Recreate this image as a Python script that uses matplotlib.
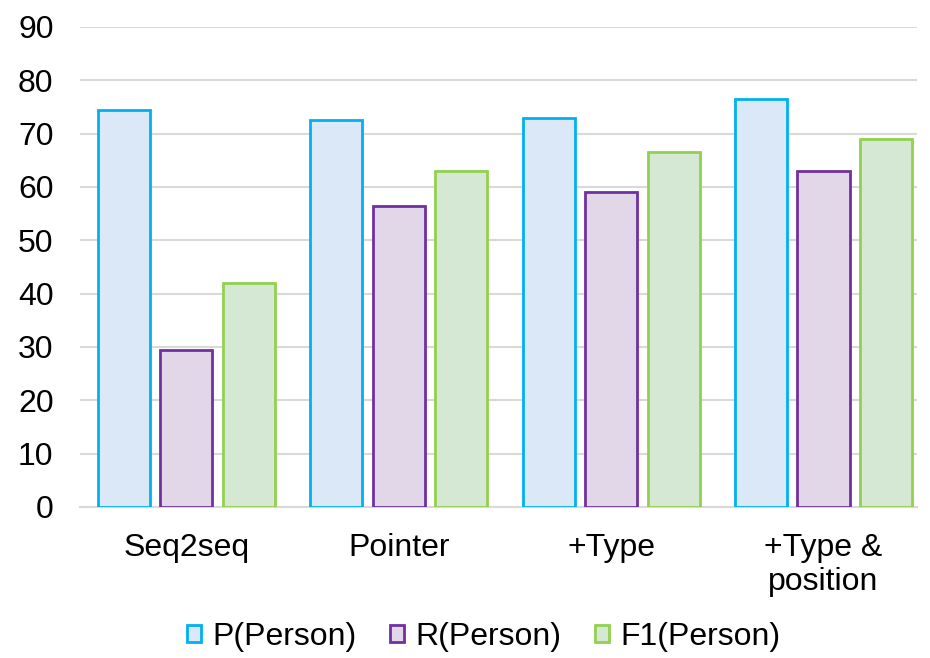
import numpy as np
import matplotlib.pyplot as plt

plt.rcParams['font.family'] = ['Liberation Sans', 'DejaVu Sans']

# data
categories = ["Seq2seq", "Pointer", "+Type", "+Type &\nposition"]
p_person = [74.5, 72.5, 73, 76.5]
r_person = [29.5, 56.5, 59, 63]
f1_person = [42, 63, 66.5, 69]

series = [("P(Person)", p_person, "#DAE8F8", "#00B0F0"),
          ("R(Person)", r_person, "#E2D6E9", "#7030A0"),
          ("F1(Person)", f1_person, "#D5E8D4", "#92D050")]

fig = plt.figure(figsize=(9.3, 6.58), dpi=100)
ax = fig.add_axes([0.086, 0.2295, 0.9, 0.7295])

x = np.arange(len(categories))
w = 0.245
step = 0.294
for i, (name, vals, fc, ec) in enumerate(series):
    ax.bar(x + (i - 1) * step, vals, w, color=fc, edgecolor=ec, linewidth=2,
           label=name, zorder=3)

ax.set_ylim(0, 90)
ax.set_yticks(range(0, 91, 10))
ax.set_xlim(-0.5, 3.44)
ax.set_xticks(x)
ax.set_xticklabels(categories, fontsize=23, linespacing=1.15)
ax.tick_params(axis='y', labelsize=23, length=0, pad=19)
ax.tick_params(axis='x', length=0, pad=19)
ax.grid(axis='y', color='#D9D9D9', linewidth=1.5, zorder=0)
for s in ['top', 'right', 'left']:
    ax.spines[s].set_visible(False)
ax.spines['bottom'].set_color('#D9D9D9')
ax.spines['bottom'].set_linewidth(1.5)

fig.legend(loc='center', bbox_to_anchor=(0.52, 0.032), ncol=3, frameon=False,
           fontsize=23, handlelength=0.45, handleheight=0.45, handletextpad=0.35,
           columnspacing=1.05)

fig.savefig("out.png", dpi=100)
